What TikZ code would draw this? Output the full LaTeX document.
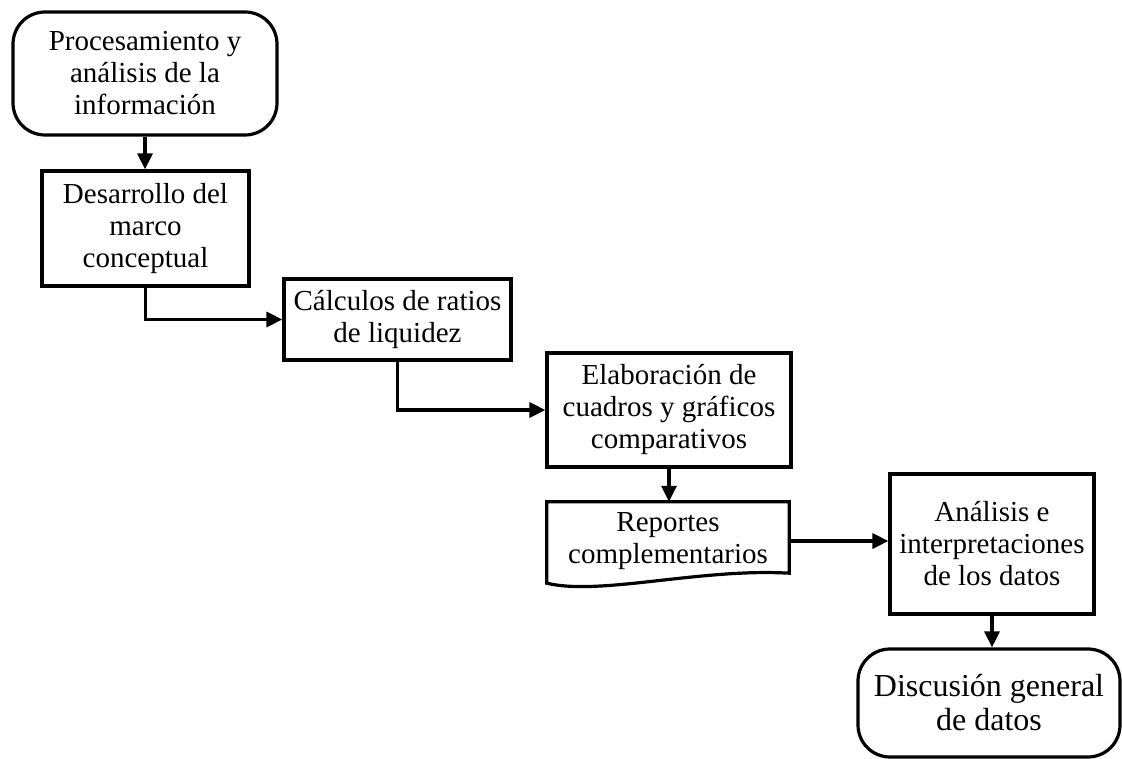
\documentclass[tikz,border=0pt]{standalone}
\usepackage{fontspec}
\setmainfont{Liberation Serif}
\usetikzlibrary{arrows.meta,calc}
\begin{document}
\begin{tikzpicture}[x=1pt,y=-1pt,
  every node/.style={font=\fontsize{29}{32}\selectfont, align=center, inner sep=0pt},
  procbox/.style={draw, line width=3.2pt, minimum width=#1},
  termbox/.style={draw, line width=3.2pt, rounded corners=32pt},
  conn/.style={line width=3.2pt, -{Triangle[length=16pt,width=15pt]}}
]
\useasboundingbox (0,0) rectangle (1122,759);
\node[termbox, minimum width=264pt, minimum height=123pt] (n1) at (145,73.5) {Procesamiento y\\análisis de la\\información};
\node[procbox=207pt, minimum height=115pt] (n2) at (145.5,228.5) {Desarrollo del\\marco\\conceptual};
\node[procbox=227pt, minimum height=81pt] (n3) at (397.5,319.5) {Cálculos de ratios\\de liquidez};
\node[procbox=244pt, minimum height=114pt] (n4) at (669,410) {Elaboración de\\cuadros y gráficos\\comparativos};
\node[minimum width=242pt, minimum height=78pt] (n5) at (668,541) {Reportes\\complementarios};
\draw[line width=3.2pt, line join=miter] ($(n5.south west)+(0,3)$) -- (n5.north west) -- (n5.north east) -- ($(n5.south east)+(0,-7)$)
  .. controls (700,568) and (600,596) .. ($(n5.south west)+(0,3)$) -- cycle;
\node[procbox=204pt, minimum height=140pt] (n6) at (992,544) {Análisis e\\interpretaciones\\de los datos};
\node[termbox, minimum width=262pt, minimum height=108pt, font=\fontsize{32}{34}\selectfont] (n7) at (989,703) {Discusión general\\de datos};
\draw[conn] (n1.south) -- (n1.south |- n2.north);
\draw[conn] (n2.south) |- (n3.west);
\draw[conn] (n3.south) |- (n4.west);
\draw[conn] (n4.south) -- (n4.south |- n5.north);
\draw[conn] (n5.east) -- (n5.east -| n6.west);
\draw[conn] (n6.south) -- (n6.south |- n7.north);
\end{tikzpicture}
\end{document}
